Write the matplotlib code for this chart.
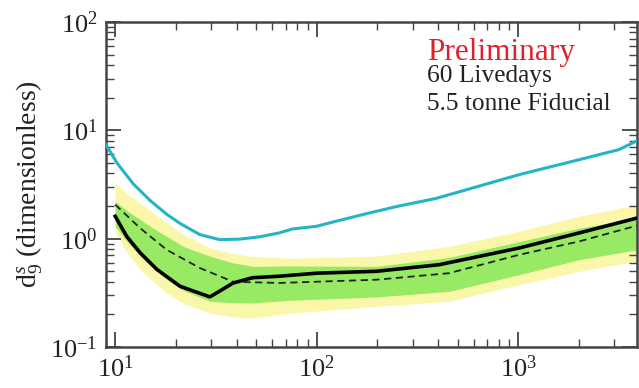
import numpy as np
import matplotlib
matplotlib.use("Agg")
import matplotlib.pyplot as plt
from matplotlib.ticker import LogLocator, FuncFormatter, NullFormatter

plt.rcParams['font.family'] = ['Liberation Serif', 'DejaVu Serif']
plt.rcParams['mathtext.fontset'] = 'custom'
plt.rcParams['mathtext.rm'] = 'Liberation Serif'
plt.rcParams['mathtext.it'] = 'Liberation Serif:italic'

# Bands (expected sensitivity)
band_x = [10, 11.5, 13.3, 15.5, 18, 22, 29.5, 38, 48, 73.5, 198, 453, 1010, 2005, 3880]
yellow_hi = [3.27, 2.6, 2.13, 1.72, 1.40, 1.08, 0.82, 0.73, 0.687, 0.66, 0.69, 0.85, 1.17, 1.61, 2.06]
green_hi = [2.21, 1.8, 1.50, 1.24, 1.05, 0.84, 0.69, 0.60, 0.555, 0.56, 0.555, 0.67, 0.94, 1.25, 1.55]
green_lo = [1.30, 0.93, 0.69, 0.53, 0.418, 0.33, 0.264, 0.256, 0.255, 0.27, 0.29, 0.326, 0.465, 0.64, 0.79]
yellow_lo = [1.13, 0.73, 0.52, 0.40, 0.315, 0.25, 0.206, 0.19, 0.185, 0.205, 0.237, 0.264, 0.376, 0.50, 0.62]

# Observed limit
obs_x = [10, 11.4, 13.3, 16.1, 21, 29.5, 38.5, 48, 65, 100, 198, 405, 1010, 2005, 3880]
obs_y = [1.61, 1.05, 0.74, 0.52, 0.363, 0.29, 0.39, 0.436, 0.45, 0.48, 0.50, 0.575, 0.82, 1.13, 1.55]

# Median expected
med_x = [10, 13.3, 18, 26.3, 38.5, 65, 198, 453, 1010, 2005, 3880]
med_y = [2.06, 1.25, 0.79, 0.536, 0.40, 0.39, 0.418, 0.48, 0.71, 0.944, 1.32]

# Previous result (cyan)
cyan_x = [9.0, 10.2, 12.3, 14.9, 18, 21, 26.3, 33, 41.5, 52, 65, 76, 99.5, 125, 183, 252, 390,
          1010, 2005, 3150, 3880]
cyan_y = [7.4, 5.0, 3.2, 2.25, 1.68, 1.38, 1.09, 0.98, 0.99, 1.04, 1.13, 1.23, 1.30, 1.45, 1.73, 1.99, 2.35,
          3.9, 5.36, 6.63, 8.0]

fig = plt.figure(figsize=(6.39, 3.88), dpi=100)
ax = fig.add_axes([106/639, 1-347/388, (637-106)/639, (347-22)/388])

ax.fill_between(band_x, yellow_lo, yellow_hi, color='#fbf7aa', lw=0, zorder=1)
ax.fill_between(band_x, green_lo, green_hi, color='#98e964', lw=0, zorder=2)
ax.plot(cyan_x, cyan_y, color='#26b4c4', lw=2.2, zorder=4, solid_joinstyle='round')
ax.plot(med_x, med_y, color='#222222', lw=1.3, ls=(0, (4, 2.5)), zorder=5)
ax.plot(obs_x, obs_y, color='black', lw=2.6, zorder=6, solid_joinstyle='round')

ax.set_xscale('log')
ax.set_yscale('log')
ax.set_xlim(9.0, 3880)
ax.set_ylim(0.1, 100)

def fmt(v, pos):
    e = int(round(np.log10(v)))
    return r'$\mathregular{10^{%d}}$' % e

for axis in (ax.xaxis, ax.yaxis):
    axis.set_major_locator(LogLocator(base=10, numticks=10))
    axis.set_minor_locator(LogLocator(base=10, subs=np.arange(2, 10), numticks=10))
    axis.set_major_formatter(FuncFormatter(fmt))
    axis.set_minor_formatter(NullFormatter())

ax.tick_params(which='both', direction='in', top=True, right=True, colors='#444444',
               labelcolor='#222222', labelsize=19)
ax.tick_params(which='major', length=11, width=1.3, pad=6)
ax.tick_params(which='minor', length=6, width=1.0)
for s in ax.spines.values():
    s.set_color('#444444')
    s.set_linewidth(1.8)

ax.set_ylabel(r'd$_9^s$ (dimensionless)', fontsize=20, color='#222222', labelpad=4)

fig.text(427/639, 1-60/388, 'Preliminary', color='#e0202a', fontsize=22.5, va='baseline', ha='left')
fig.text(427/639, 1-82/388, '60 Livedays', color='#222222', fontsize=18.3, va='baseline', ha='left')
fig.text(427/639, 1-110/388, '5.5 tonne Fiducial', color='#222222', fontsize=18.3, va='baseline', ha='left')

fig.savefig('out.png', dpi=100)
